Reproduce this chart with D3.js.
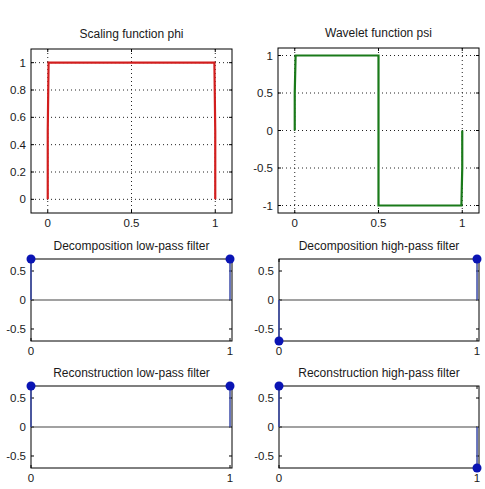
<!DOCTYPE html>
<html>
<head>
<meta charset="utf-8">
<script src="https://cdn.jsdelivr.net/npm/d3@7"></script>
<style>
  body { margin: 0; background: #fff; }
  svg { display: block; }
  text { font-family: "Liberation Sans", Arial, sans-serif; fill: #1a1a1a; }
</style>
</head>
<body>
<svg id="svg1" width="485" height="489"></svg>
<script>
// Haar wavelet: scaling function, wavelet function and the four filters
var phiX = [0, 0, 0.005, 0.995, 1, 1];
var phiY = [0, 0.5, 1, 1, 0.5, 0];
var psiX = [0, 0, 0.005, 0.5, 0.5, 0.995, 1, 1];
var psiY = [0, 0.5, 1, 1, -1, -1, -0.5, 0];

var filterIdx = [0, 1];
var loD = [0.7071, 0.7071];
var hiD = [-0.7071, 0.7071];
var loR = [0.7071, 0.7071];
var hiR = [0.7071, -0.7071];

var titles = ["Scaling function phi", "Wavelet function psi",
  "Decomposition low-pass filter", "Decomposition high-pass filter",
  "Reconstruction low-pass filter", "Reconstruction high-pass filter"];

var phiYTicks = [0, 0.2, 0.4, 0.6, 0.8, 1];
var psiYTicks = [-1, -0.5, 0, 0.5, 1];
var funcXTicks = [0, 0.5, 1];
var filterYTicks = [-0.5, 0, 0.5];
var filterXTicks = [0, 1];

var svg = d3.select("svg#svg1");

function drawFrame(box, x, y, xTicks, yTicks, grid, title, titleY) {
  var g = svg.append("g");
  var x0 = box.left, x1 = box.right, y0 = box.top, y1 = box.bottom;
  g.append("rect")
    .attr("x", x0).attr("y", y0)
    .attr("width", x1 - x0).attr("height", y1 - y0)
    .attr("fill", "#fff");

  if (grid) {
    g.selectAll("line.gx").data(xTicks).enter().append("line")
      .attr("x1", d => x(d)).attr("x2", d => x(d))
      .attr("y1", y0).attr("y2", y1)
      .attr("stroke", "#222").attr("stroke-dasharray", "1,3");
    g.selectAll("line.gy").data(yTicks).enter().append("line")
      .attr("y1", d => y(d)).attr("y2", d => y(d))
      .attr("x1", x0).attr("x2", x1)
      .attr("stroke", "#222").attr("stroke-dasharray", "1,3");
  }

  // inner ticks on all four sides
  var t = 3;
  xTicks.forEach(function(d) {
    g.append("line").attr("x1", x(d)).attr("x2", x(d)).attr("y1", y1).attr("y2", y1 - t).attr("stroke", "#000");
    g.append("line").attr("x1", x(d)).attr("x2", x(d)).attr("y1", y0).attr("y2", y0 + t).attr("stroke", "#000");
  });
  yTicks.forEach(function(d) {
    g.append("line").attr("y1", y(d)).attr("y2", y(d)).attr("x1", x0).attr("x2", x0 + t).attr("stroke", "#000");
    g.append("line").attr("y1", y(d)).attr("y2", y(d)).attr("x1", x1).attr("x2", x1 - t).attr("stroke", "#000");
  });

  g.selectAll("text.xt").data(xTicks).enter().append("text")
    .attr("x", d => x(d)).attr("y", y1 + 14)
    .attr("text-anchor", "middle").style("font-size", "11.5px")
    .text(d => d);
  g.selectAll("text.yt").data(yTicks).enter().append("text")
    .attr("x", x0 - 5).attr("y", d => y(d) + 4)
    .attr("text-anchor", "end").style("font-size", "11.5px")
    .text(d => d);

  svg.append("text")
    .attr("x", (x0 + x1) / 2).attr("y", titleY)
    .attr("text-anchor", "middle").style("font-size", "12px")
    .text(title);
  return g;
}

function drawBorder(box) {
  svg.append("rect")
    .attr("x", box.left).attr("y", box.top)
    .attr("width", box.right - box.left).attr("height", box.bottom - box.top)
    .attr("fill", "none").attr("stroke", "#000");
}

function drawFunction(box, xs, ys, yDom, yTicks, color, title) {
  var x = d3.scaleLinear().domain([-0.1, 1.1]).range([box.left, box.right]);
  var y = d3.scaleLinear().domain(yDom).range([box.bottom, box.top]);
  drawFrame(box, x, y, funcXTicks, yTicks, true, title, box.top - 11);
  var line = d3.line().x(d => x(d[0])).y(d => y(d[1]));
  svg.append("path")
    .datum(d3.zip(xs, ys))
    .attr("d", line)
    .attr("fill", "none")
    .attr("stroke", color)
    .attr("stroke-width", 2.2);
  drawBorder(box);
}

function drawFilter(box, vals, title) {
  var x = d3.scaleLinear().domain([0, 1.01]).range([box.left, box.right]);
  var y = d3.scaleLinear().domain([-0.7071, 0.7071]).range([box.bottom, box.top]);
  drawFrame(box, x, y, filterXTicks, filterYTicks, false, title, box.top - 9);
  svg.append("line")
    .attr("x1", x(0)).attr("x2", x(1))
    .attr("y1", y(0)).attr("y2", y(0))
    .attr("stroke", "#444").attr("stroke-width", 1.2);
  drawBorder(box);
  var pts = d3.zip(filterIdx, vals);
  svg.selectAll(null).data(pts).enter().append("line")
    .attr("x1", d => x(d[0])).attr("x2", d => x(d[0]))
    .attr("y1", y(0)).attr("y2", d => y(d[1]))
    .attr("stroke", "#3a4aa8").attr("stroke-width", 1.5);
  svg.selectAll(null).data(pts).enter().append("circle")
    .attr("cx", d => x(d[0])).attr("cy", d => y(d[1]))
    .attr("r", 4.5)
    .attr("fill", "#0a14b4");
}

drawFunction({left: 31, right: 232, top: 49, bottom: 213}, phiX, phiY, [-0.1, 1.1], phiYTicks, "#d21e1e", titles[0]);
drawFunction({left: 278, right: 479, top: 48, bottom: 213}, psiX, psiY, [-1.1, 1.1], psiYTicks, "#1a7a1a", titles[1]);

drawFilter({left: 31, right: 232, top: 259, bottom: 341}, loD, titles[2]);
drawFilter({left: 279, right: 479, top: 259, bottom: 341}, hiD, titles[3]);
drawFilter({left: 31, right: 232, top: 386, bottom: 468}, loR, titles[4]);
drawFilter({left: 279, right: 479, top: 386, bottom: 468}, hiR, titles[5]);
</script>
</body>
</html>
